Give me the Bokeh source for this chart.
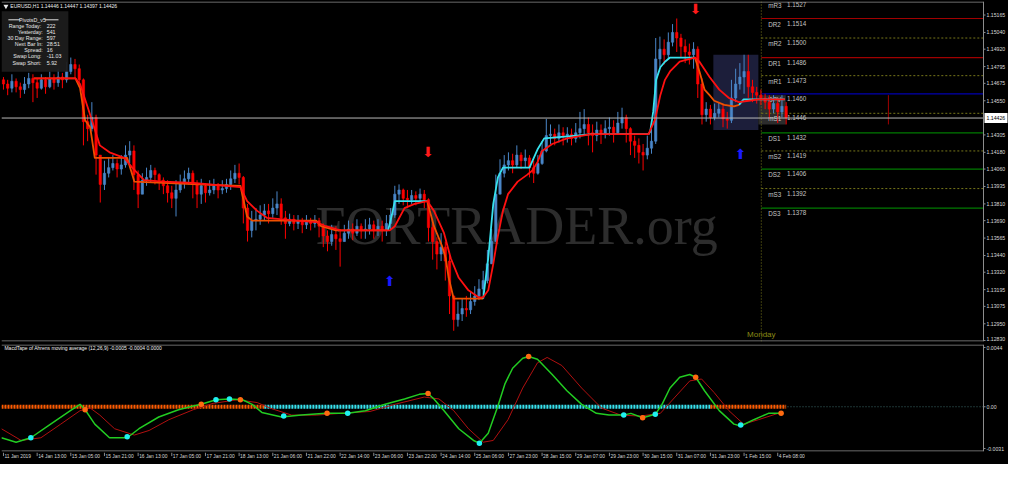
from bokeh.plotting import figure
from bokeh.layouts import column
from bokeh.models import Range1d, ColumnDataSource
from bokeh.core.properties import value
from bokeh.embed import file_html
from bokeh.resources import INLINE

FONT = "Liberation Sans"

# ---------------- data (2-hour bars, EURUSD) ----------------
first_open = 1.1470
close = [1.1467,1.1464,1.1469,1.1465,1.1463,1.1467,1.1471,1.1468,1.1464,1.1470,
         1.1465,1.1471,1.1468,1.1472,1.1470,1.1476,1.1481,1.1478,1.1470,1.1440,
         1.1435,1.1443,1.1416,1.1395,1.1403,1.1407,1.1410,1.1406,1.1409,1.1416,
         1.1419,1.1402,1.1388,1.1398,1.1400,1.1405,1.1402,1.1398,1.1394,1.1389,
         1.1385,1.1391,1.1396,1.1399,1.1403,1.1395,1.1388,1.1394,1.1389,1.1391,
         1.1394,1.1391,1.1392,1.1395,1.1399,1.1403,1.1400,1.1378,1.1362,1.1369,
         1.1370,1.1373,1.1376,1.1374,1.1378,1.1381,1.1371,1.1367,1.1370,1.1367,
         1.1369,1.1366,1.1369,1.1367,1.1369,1.1365,1.1358,1.1354,1.1359,1.1356,
         1.1354,1.1360,1.1363,1.1360,1.1365,1.1362,1.1363,1.1366,1.1362,1.1365,
         1.1362,1.1367,1.1373,1.1388,1.1391,1.1385,1.1384,1.1387,1.1385,1.1388,
         1.1384,1.1364,1.1354,1.1345,1.1350,1.1340,1.1315,1.1298,1.1302,1.1306,
         1.1305,1.1311,1.1315,1.1320,1.1326,1.1338,1.1354,1.1388,1.1403,1.1409,
         1.1412,1.1409,1.1416,1.1412,1.1414,1.1407,1.1403,1.1410,1.1419,1.1430,
         1.1431,1.1428,1.1432,1.1430,1.1431,1.1428,1.1432,1.1435,1.1438,1.1432,
         1.1430,1.1434,1.1431,1.1435,1.1436,1.1432,1.1439,1.1443,1.1435,1.1426,
         1.1423,1.1418,1.1416,1.1421,1.1426,1.1485,1.1492,1.1488,1.1497,1.1504,
         1.1500,1.1494,1.1490,1.1488,1.1492,1.1467,1.1445,1.1449,1.1443,1.1446,
         1.1449,1.1442,1.1441,1.1457,1.1467,1.1472,1.1476,1.1465,1.1461,1.1459,
         1.1457,1.1454,1.1449,1.1453,1.1447,1.1451,1.14426]
high = [1.1472,1.1470,1.1474,1.1471,1.1468,1.1472,1.1475,1.1474,1.1471,1.1474,
        1.1472,1.1476,1.1474,1.1478,1.1475,1.1483,1.1486,1.1485,1.1481,1.1471,
        1.1445,1.1454,1.1445,1.1416,1.1412,1.1414,1.1416,1.1413,1.1416,1.1423,
        1.1426,1.1423,1.1405,1.1403,1.1407,1.1409,1.1407,1.1403,1.1400,1.1398,
        1.1394,1.1398,1.1402,1.1405,1.1407,1.1405,1.1398,1.1399,1.1396,1.1398,
        1.1399,1.1396,1.1398,1.1399,1.1405,1.1409,1.1410,1.1401,1.1381,1.1376,
        1.1378,1.1380,1.1381,1.1381,1.1385,1.1390,1.1385,1.1376,1.1374,1.1373,
        1.1373,1.1371,1.1373,1.1371,1.1373,1.1371,1.1367,1.1362,1.1366,1.1365,
        1.1363,1.1366,1.1369,1.1367,1.1370,1.1367,1.1370,1.1371,1.1369,1.1370,
        1.1369,1.1373,1.1378,1.1394,1.1395,1.1392,1.1391,1.1391,1.1390,1.1392,
        1.1391,1.1385,1.1367,1.1357,1.1360,1.1354,1.1345,1.1312,1.1311,1.1313,
        1.1315,1.1318,1.1322,1.1327,1.1333,1.1348,1.1363,1.1402,1.1413,1.1416,
        1.1418,1.1417,1.1423,1.1418,1.1420,1.1416,1.1412,1.1416,1.1426,1.1442,
        1.1438,1.1435,1.1438,1.1436,1.1436,1.1435,1.1439,1.1447,1.1449,1.1443,
        1.1438,1.1440,1.1438,1.1441,1.1443,1.1441,1.1447,1.1450,1.1445,1.1436,
        1.1430,1.1428,1.1424,1.1430,1.1435,1.1500,1.1501,1.1499,1.1504,1.1510,
        1.1514,1.1503,1.1499,1.1496,1.1497,1.1494,1.1471,1.1454,1.1452,1.1453,
        1.1454,1.1452,1.1447,1.1470,1.1478,1.1482,1.1488,1.1488,1.1470,1.1465,
        1.1463,1.1460,1.1459,1.1459,1.1457,1.1459,1.1454]
low = [1.1463,1.1459,1.1461,1.1461,1.1457,1.1460,1.1464,1.1454,1.1457,1.1463,
       1.1460,1.1464,1.1463,1.1465,1.1464,1.1468,1.1474,1.1471,1.1465,1.1423,
       1.1426,1.1433,1.1402,1.1382,1.1391,1.1400,1.1405,1.1400,1.1402,1.1407,
       1.1410,1.1391,1.1378,1.1388,1.1394,1.1396,1.1395,1.1391,1.1388,1.1382,
       1.1378,1.1372,1.1389,1.1392,1.1395,1.1385,1.1378,1.1381,1.1382,1.1387,
       1.1388,1.1385,1.1388,1.1389,1.1391,1.1396,1.1395,1.1367,1.1354,1.1357,
       1.1362,1.1366,1.1369,1.1367,1.1371,1.1373,1.1366,1.1356,1.1365,1.1362,
       1.1363,1.1360,1.1363,1.1362,1.1364,1.1357,1.1350,1.1347,1.1351,1.1348,
       1.1336,1.1354,1.1356,1.1355,1.1358,1.1356,1.1356,1.1359,1.1356,1.1358,
       1.1354,1.1358,1.1363,1.1371,1.1381,1.1380,1.1378,1.1381,1.1380,1.1382,
       1.1378,1.1354,1.1341,1.1334,1.1340,1.1326,1.1302,1.1290,1.1293,1.1297,
       1.1300,1.1302,1.1308,1.1312,1.1316,1.1324,1.1338,1.1354,1.1388,1.1400,
       1.1405,1.1403,1.1407,1.1406,1.1407,1.1400,1.1396,1.1402,1.1409,1.1418,
       1.1424,1.1423,1.1425,1.1423,1.1425,1.1423,1.1425,1.1428,1.1430,1.1423,
       1.1418,1.1426,1.1424,1.1428,1.1430,1.1425,1.1431,1.1435,1.1425,1.1416,
       1.1414,1.1410,1.1405,1.1413,1.1417,1.1424,1.1479,1.1481,1.1485,1.1494,
       1.1490,1.1486,1.1482,1.1481,1.1478,1.1457,1.1438,1.1440,1.1438,1.1441,
       1.1443,1.1436,1.1435,1.1439,1.1454,1.1463,1.1460,1.1457,1.1454,1.1453,
       1.1452,1.1449,1.1442,1.1446,1.1439,1.1443,1.1438]

# slow Ahrens MA (red)
slow_x = [7.2,17.1,18.2,20.6,22.9,25.2,28.7,30.6,33.4,38.1,45.1,56.3,57.9,60.3,62.6,
          69.6,74.3,76.6,80.1,91.8,93.0,95.3,97.7,100.7,102.3,104.7,106.3,108.2,110.5,112.9,
          114.0,115.2,116.4,117.5,118.7,119.9,122.2,124.5,125.7,126.9,128.0,130.4,133.9,139.7,153.3,
          154.9,156.1,157.2,158.4,160.7,163.1,164.3,165.4,167.8,170.1,172.4,174.8,177.1,179.4,185.7]
slow_y = [1.1471,1.1471,1.1467,1.1445,1.1423,1.1418,1.1414,1.1407,1.1398,1.1397,1.1396,1.1393,1.1383,1.1376,1.1371,
          1.1369,1.1368,1.1365,1.1362,1.1362,1.1365,1.1378,1.1381,1.1383,1.1376,1.1360,1.1342,1.1328,1.1319,1.1314,
          1.1314,1.1319,1.1338,1.1358,1.1376,1.1388,1.1397,1.1402,1.1405,1.1411,1.1419,1.1424,1.1428,1.1431,1.1431,
          1.1442,1.1459,1.1470,1.1476,1.1483,1.1485,1.1486,1.1483,1.1472,1.1463,1.1457,1.1454,1.1455,1.1456,1.1456]

# fast Ahrens MA, split by direction
fast_dir = ["down", "up", "down", "up", "down", "up"]
fast_x = [[7.2,17.1,18.2,19.4,20.6,21.7,29.4,31.1,46.3,56.3,57.9,59.1,74.3,75.5,79.0,91.4],
          [91.4,92.3,93.0,100.7],
          [100.7,102.3,104.2,105.1,105.8,107.0,114.0],
          [114.0,115.2,116.4,117.5,118.7,125.0,126.9,128.5,136.2,139.7,153.3,153.7,154.4,155.1,156.1,157.2,158.4,164.3],
          [164.3,165.4,166.6,167.8,168.9,171.3,173.6,174.8],
          [174.8,175.9,177.1,185.7]]
fast_y = [[1.1471,1.1471,1.1464,1.1441,1.1436,1.1414,1.1414,1.1397,1.1395,1.1394,1.1372,1.1369,1.1369,1.1365,1.1362,1.1362],
          [1.1362,1.1373,1.1383,1.1383],
          [1.1383,1.1365,1.1351,1.1342,1.1328,1.1313,1.1313],
          [1.1313,1.1342,1.1381,1.1400,1.1407,1.1407,1.1420,1.1428,1.1430,1.1431,1.1431,1.1433,1.1447,1.1470,1.1479,1.1483,1.1486,1.1486],
          [1.1486,1.1476,1.1463,1.1459,1.1455,1.1452,1.1451,1.1452],
          [1.1452,1.1456,1.1456,1.1456]]

# daily pivots
monday_bar = 180.1
pivot_names = ["mR3","DR2","mR2","DR1","mR1","DPV","mS1","DS1","mS2","DS2","mS3","DS3"]
pivot_vals = [1.1527,1.1514,1.1500,1.1486,1.1473,1.1460,1.1446,1.1432,1.1419,1.1406,1.1392,1.1378]

# range boxes
box_left = [168.7, 179.4]
box_right = [179.4, 185.9]
box_top = [1.1488, 1.1459]
box_bottom = [1.1434, 1.1438]
next_bar = 210.3

# signal arrows
arrow_dn_x = [100.9, 164.5]
arrow_dn_y = [1.1418, 1.1521]
arrow_up_x = [91.8, 175.2]
arrow_up_y = [1.1326, 1.1417]

# MacdTape indicator
macd_x = [-0.5,3.0,6.5,11.2,15.9,18.2,19.4,21.7,25.2,29.4,32.2,36.9,41.6,45.1,47.0,50.5,53.7,56.8,59.1,61.4,
          66.1,70.8,76.6,81.8,86.0,90.7,95.3,98.8,100.9,102.3,104.7,108.2,111.7,113.1,115.2,117.5,119.2,121.0,123.4,124.8,
          126.9,130.4,133.9,137.4,140.9,143.9,147.4,149.1,151.9,154.9,156.5,158.4,160.7,163.1,164.5,166.6,170.1,173.6,175.2,178.3,
          181.8,185.3]
macd_y = [-0.00230,-0.00263,-0.00230,-0.00129,-0.00029,0.00018,-0.00022,-0.00129,-0.00230,-0.00230,
          -0.00163,-0.00076,-0.00022,0.00005,0.00018,0.00052,0.00058,0.00052,0.00018,-0.00042,
          -0.00076,-0.00062,-0.00049,-0.00049,-0.00029,0.00018,0.00058,0.00092,0.00098,0.00058,
          -0.00029,-0.00163,-0.00250,-0.00270,-0.00196,0.00005,0.00172,0.00286,0.00360,0.00373,
          0.00353,0.00239,0.00119,0.00018,-0.00049,-0.00062,-0.00062,-0.00049,-0.00082,-0.00056,
          0.00018,0.00139,0.00219,0.00239,0.00219,0.00119,-0.00029,-0.00129,-0.00143,-0.00096,
          -0.00049,-0.00049]
sig_x = [-0.5,4.2,8.9,13.6,18.2,20.6,22.9,26.4,31.1,34.6,39.3,45.1,49.8,55.6,60.3,63.8,68.5,74.3,80.1,87.1,
         93.0,100.0,103.5,107.0,110.5,114.0,116.4,119.9,123.4,126.9,129.2,132.7,137.4,142.1,146.7,151.4,156.1,159.6,163.1,165.9,
         168.9,172.4,175.9,179.4,184.1]
sig_y = [-0.00163,-0.00250,-0.00230,-0.00129,-0.00029,-0.00009,-0.00062,-0.00163,-0.00210,-0.00176,
         -0.00096,-0.00022,0.00025,0.00052,0.00031,-0.00015,-0.00062,-0.00062,-0.00049,-0.00035,
         0.00018,0.00072,0.00058,-0.00029,-0.00163,-0.00263,-0.00250,-0.00096,0.00139,0.00326,
         0.00366,0.00306,0.00139,-0.00009,-0.00062,-0.00069,-0.00049,0.00072,0.00192,0.00206,
         0.00105,-0.00029,-0.00129,-0.00096,-0.00049]
cross_dn_x = [19.4,47.0,56.3,76.9,100.9,124.8,151.9,164.5,184.8]
cross_dn_y = [-0.00022,0.00018,0.00052,-0.00049,0.00098,0.00373,-0.00082,0.00219,-0.00049]
cross_up_x = [6.5,29.4,50.5,53.7,66.6,81.8,113.1,147.4,154.9,175.2]
cross_up_y = [-0.00230,-0.00223,0.00052,0.00058,-0.00069,-0.00049,-0.00270,-0.00062,-0.00056,-0.00136]
tape_start = [-0.47, 62.0, 168.0]
tape_end = [62.0, 168.0, 186.0]
tape_state = ["sell", "buy", "sell"]

tick_bars = list(range(0, 185, 8))
tick_labels = ["11 Jan 2019","14 Jan 13:00","15 Jan 05:00","15 Jan 21:00","16 Jan 13:00","17 Jan 05:00",
               "17 Jan 21:00","18 Jan 13:00","21 Jan 06:00","21 Jan 22:00","22 Jan 14:00","23 Jan 06:00",
               "23 Jan 22:00","24 Jan 14:00","25 Jan 06:00","27 Jan 23:00","28 Jan 15:00","29 Jan 07:00",
               "29 Jan 23:00","30 Jan 15:00","31 Jan 07:00","31 Jan 23:00","1 Feb 15:00","4 Feb 08:00"]
price_ticks = [1.15165,1.15040,1.14920,1.14795,1.14675,1.14550,1.14305,1.14180,1.14060,1.13935,
               1.13810,1.13690,1.13565,1.13440,1.13320,1.13195,1.13075,1.12950,1.12830]
ind_ticks = [0.0044, 0.0, -0.0031]
ind_tick_labels = ["0.0044", "0.00", "-0.0031"]
info_labels = ["Range  Today:", "Yesterday:", "30 Day Range:", "Next Bar In:", "Spread:", "Swap  Long:", "Swap  Short:"]
info_values = ["222", "541", "597", "28:51", "16", "-11.03", "5.92"]

# ---------------- layout helpers ----------------
W = 1008
RB = 25                       # price-scale width (drawn inside each frame)
FW = W - 1 - RB               # chart area width
MAIN_H = 342
MAIN_FH = MAIN_H - 2
IND_H = 110
IND_FH = IND_H - 3
XR = (-0.47, 232.9)
YR = (1.12823, 1.15262)
IR = (-0.00332, 0.00462)
UX = (XR[1] - XR[0]) / FW     # data units per pixel
UY = (YR[1] - YR[0]) / MAIN_FH
UI = (IR[1] - IR[0]) / IND_FH
XE = XR[0] + UX * (W - 1)
GRAY = "#8c8c8c"
LBL = "#d8d8d8"
BULL = "#4a86c8"
BEAR = "#ff0000"
CYAN = "#38e2ee"
ORANGE = "#f05000"
RED = "#ff1010"


def fx(px):
    return XR[0] + px / 999.0 * (XR[1] - XR[0])


def fy(py):
    return YR[1] - py / 353.0 * (YR[1] - YR[0])


def fiy(py):
    return IR[1] - (py - 355.0) / 112.0 * (IR[1] - IR[0])


xr = Range1d(XR[0], XE)


def make_fig(h, yr, top, bottom):
    p = figure(width=W, height=h, x_range=xr, y_range=Range1d(*yr), output_backend="svg",
               toolbar_location=None, x_axis_location=None, y_axis_location=None,
               background_fill_color="black", border_fill_color="black", min_border_left=1,
               min_border_right=0, min_border_top=top, min_border_bottom=bottom, outline_line_color=None)
    p.grid.visible = False
    return p


def price_scale(p, y0, y1, uy, ticks, labels):
    # frame border (top, bottom, right) and tick marks/labels of the right-hand scale
    p.segment(x0=[XR[0], XR[0], XR[1]], y0=[y1 - 0.5 * uy, y0 + 0.5 * uy, y0],
              x1=[XR[1], XR[1], XR[1]], y1=[y1 - 0.5 * uy, y0 + 0.5 * uy, y1],
              line_color=GRAY, line_width=1)
    p.segment(x0=[XR[1]] * len(ticks), y0=ticks, x1=[XR[1] + 2 * UX] * len(ticks), y1=ticks,
              line_color=GRAY, line_width=1)
    ly = [min(max(t, y0 + 3 * uy), y1 - 3 * uy) for t in ticks]
    p.text(x=[XR[1] + 3 * UX] * len(ticks), y=ly, text=labels, text_font=value(FONT),
           text_font_size="5.2px", text_color=LBL, text_align="left", text_baseline="middle")


# ---------------- main chart ----------------
main = make_fig(MAIN_H, YR, 1, 1)

# watermark
main.text(x=[fx(524)], y=[fy(233)], text=["FORTRADER.org"], text_font=value("Liberation Serif"),
          text_font_size="54px", text_color="#2d2d2d", text_align="center", text_baseline="middle")

# range boxes
main.quad(left=box_left[:1], right=box_right[:1], top=box_top[:1], bottom=box_bottom[:1],
          fill_color="#1c1e3a", line_color=None)
main.quad(left=box_left[1:], right=box_right[1:], top=box_top[1:], bottom=box_bottom[1:],
          fill_color="#2c2c2c", line_color=None)

# pivots
for name, val in zip(pivot_names, pivot_vals):
    if name.startswith("m"):
        main.segment(x0=[monday_bar], y0=[val], x1=[XR[1]], y1=[val], line_color="#76761a",
                     line_width=1, line_dash="2 2")
    else:
        col = {"DR": "#a00000", "DS": "#007a00", "DP": "#0000b0"}[name[:2]]
        main.segment(x0=[monday_bar], y0=[val], x1=[XR[1]], y1=[val], line_color=col, line_width=1.2)
main.text(x=[fx(780)] * len(pivot_names), y=pivot_vals, text=pivot_names, text_font=value(FONT),
          text_font_size="6.3px", text_color="#c4c4c4", text_align="left", text_baseline="top", y_offset=2)
main.text(x=[fx(799)] * len(pivot_names), y=pivot_vals, text=[f"{v:.4f}" for v in pivot_vals],
          text_font=value(FONT), text_font_size="6.3px", text_color="#c4c4c4", text_align="left",
          text_baseline="top", y_offset=2)
main.segment(x0=[monday_bar], y0=[YR[0]], x1=[monday_bar], y1=[YR[1]], line_color="#76761a",
             line_dash="1 2", line_width=1)
main.text(x=[monday_bar], y=[fy(346)], text=["Monday"], text_font=value(FONT), text_font_size="8px",
          text_color="#8a8a14", text_align="center", text_baseline="middle")
main.segment(x0=[next_bar], y0=[box_top[1]], x1=[next_bar], y1=[box_bottom[1]], line_color="#a00000")

# candles
opens = [first_open] + close[:-1]
idx = list(range(len(close)))
hi = [max(h, o, c) for h, o, c in zip(high, opens, close)]
lo = [min(l, o, c) for l, o, c in zip(low, opens, close)]
src = ColumnDataSource(dict(
    x=idx, h=hi, l=lo,
    top=[max(o, c) for o, c in zip(opens, close)],
    bot=[min(o, c) for o, c in zip(opens, close)],
    col=[BULL if c >= o else BEAR for o, c in zip(opens, close)]))
main.segment(x0="x", y0="l", x1="x", y1="h", line_color="col", line_width=1, source=src)
main.vbar(x="x", width=0.55, top="top", bottom="bot", fill_color="col", line_color="col",
          line_width=0.6, source=src)

# moving averages
for d, xs, ys in zip(fast_dir, fast_x, fast_y):
    main.line(xs, ys, line_color=CYAN if d == "up" else ORANGE, line_width=1.8, line_join="round")
main.line(slow_x, slow_y, line_color=RED, line_width=1.8, line_join="round")

# current price line
main.segment(x0=[XR[0]], y0=[close[-1]], x1=[XR[1]], y1=[close[-1]], line_color="#b8b8b8", line_width=1)

# arrows
main.text(x=arrow_dn_x, y=arrow_dn_y, text=["\u2b07"] * len(arrow_dn_x), text_font=value("DejaVu Sans"),
          text_font_size="14px", text_color="#ff1a1a", text_align="center", text_baseline="middle")
main.text(x=arrow_up_x, y=arrow_up_y, text=["\u2b06"] * len(arrow_up_x), text_font=value("DejaVu Sans"),
          text_font_size="14px", text_color="#1a1aff", text_align="center", text_baseline="middle")

# info box
main.quad(left=[XR[0]], right=[fx(68)], top=[fy(10)], bottom=[fy(73)], fill_color="#1c1c1c",
          fill_alpha=0.95, line_color=None)
main.segment(x0=[fx(7), fx(44)], y0=[fy(19)] * 2, x1=[fx(19), fx(58)], y1=[fy(19)] * 2,
             line_color="#e0e0e0", line_width=1)
main.text(x=[fx(31.5)], y=[fy(19)], text=["PivotsD_v5"], text_font=value(FONT), text_font_size="5.3px",
          text_color="#e8e8e8", text_align="center", text_baseline="middle")
rows = [fy(25 + 6.4 * i) for i in range(len(info_labels))]
main.text(x=[fx(42)] * len(rows), y=rows, text=info_labels, text_font=value(FONT), text_font_size="5.3px",
          text_color="#e8e8e8", text_align="right", text_baseline="middle")
main.text(x=[fx(46)] * len(rows), y=rows, text=info_values, text_font=value(FONT), text_font_size="5.3px",
          text_color="#e8e8e8", text_align="left", text_baseline="middle")
main.scatter(x=[fx(4.5)], y=[fy(5)], marker="inverted_triangle", size=5, fill_color="#e8e8e8", line_color=None)
main.text(x=[fx(9)], y=[fy(5)], text=["EURUSD,H1  1.14446 1.14447 1.14397 1.14426"], text_font=value(FONT),
          text_font_size="5px", text_color="#f0f0f0", text_align="left", text_baseline="middle")

# price scale + current price tag
price_scale(main, YR[0], YR[1], UY, price_ticks, [f"{t:.5f}" for t in price_ticks])
main.quad(left=[XR[1] + 1 * UX], right=[XE - 1 * UX], top=[close[-1] + 5 * UY], bottom=[close[-1] - 5 * UY],
          fill_color="white", line_color=None)
main.text(x=[XR[1] + 3 * UX], y=[close[-1]], text=[f"{close[-1]:.5f}"], text_font=value(FONT),
          text_font_size="5.2px", text_color="black", text_align="left", text_baseline="middle")

# ---------------- indicator panel ----------------
ind = make_fig(IND_H, IR, 2, 1)
ind.segment(x0=[XR[0]], y0=[0], x1=[XR[1]], y1=[0], line_color="#3b6a6a", line_dash="1 2")
for s, e, st in zip(tape_start, tape_end, tape_state):
    ind.segment(x0=[s], y0=[0], x1=[e], y1=[0], line_color=CYAN if st == "buy" else "#ff5a00",
                line_width=4, line_dash="2 1")
ind.line(sig_x, sig_y, line_color="#b01010", line_width=1)
ind.line(macd_x, macd_y, line_color="#22cc22", line_width=1.5)
ind.scatter(cross_dn_x, cross_dn_y, size=5.5, fill_color="#ff6a10", line_color=None)
ind.scatter(cross_up_x, cross_up_y, size=5.5, fill_color="#20f0f0", line_color=None)
ind.text(x=[fx(3)], y=[fiy(359)], text=["MacdTape of Ahrens moving average (12,26,9) -0.0005 -0.0004 0.0000"],
         text_font=value(FONT), text_font_size="5px", text_color="#f0f0f0", text_align="left",
         text_baseline="middle")
price_scale(ind, IR[0], IR[1], UI, ind_ticks, ind_tick_labels)

# ---------------- time axis strip ----------------
strip = make_fig(12, (0, 1), 0, 0)
strip.segment(x0=tick_bars, y0=[1.0] * len(tick_bars), x1=tick_bars, y1=[0.7] * len(tick_bars),
              line_color=GRAY, line_width=1)
strip.text(x=tick_bars, y=[0.88] * len(tick_bars), text=tick_labels, x_offset=1, text_font=value(FONT),
           text_font_size="4.9px", text_color=LBL, text_align="left", text_baseline="top")

layout = column(main, ind, strip, spacing=0, background="black")
open("out.html", "w").write(file_html(layout, INLINE))
